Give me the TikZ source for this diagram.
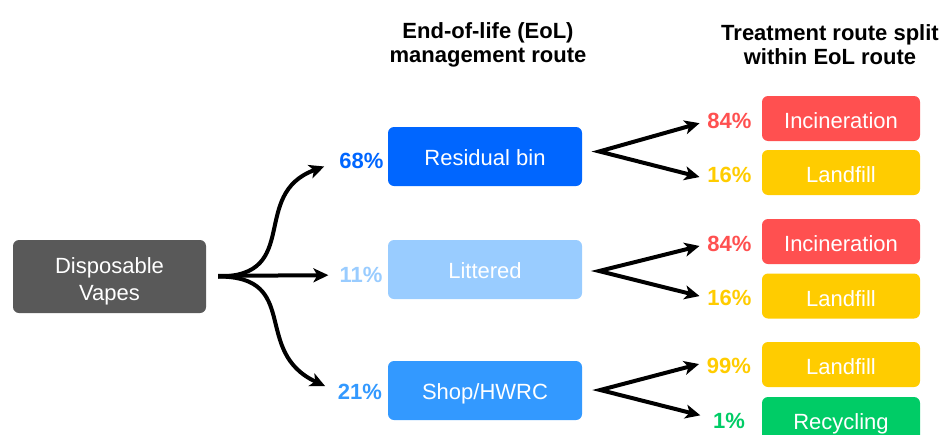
\documentclass[tikz,border=0pt]{standalone}
\usepackage{fontspec}
\setmainfont{Liberation Sans}
\usetikzlibrary{arrows.meta}
\definecolor{vapegray}{HTML}{595959}
\definecolor{binblue}{HTML}{0066FF}
\definecolor{litblue}{HTML}{99CCFF}
\definecolor{shopblue}{HTML}{3399FF}
\definecolor{incred}{HTML}{FF5050}
\definecolor{fillyellow}{HTML}{FFCC00}
\definecolor{recgreen}{HTML}{00CC66}
\tikzset{
	box/.style={rounded corners=6pt,text=white,inner sep=0pt,minimum width=194pt,minimum height=59pt,align=center,text height=18pt,text depth=0pt,font=\fontsize{22}{27}\selectfont},
	tbox/.style={box,minimum width=158pt,minimum height=45pt,text height=20pt},
	pct/.style={inner sep=0pt,font=\bfseries\fontsize{22}{26}\selectfont},
	head/.style={align=center,font=\bfseries\fontsize{22}{24}\selectfont},
	flow/.style={->,line width=4pt,miter limit=20}
}
\begin{document}
\begin{tikzpicture}[>={Stealth[length=15pt,width=14pt,inset=4pt]},x=1pt,y=-1pt]
		\useasboundingbox (0,0) rectangle (944,434);
		\node[head] (hroute) at (488,44.5) {End-of-life (EoL)\\management route};
		\node[head] (hsplit) at (830,44.5) {Treatment route split\\within EoL route};
		\node[box,fill=vapegray,minimum width=193pt,minimum height=73pt,text height=48pt] (vapes) at (109.5,276.5) {Disposable\\Vapes};
		\node[box,fill=binblue] (bin) at (485,156.5) {Residual bin};
		\node[box,fill=litblue] (litter) at (485,269.5) {Littered};
		\node[box,fill=shopblue] (shop) at (485,390.5) {Shop/HWRC};
		\node[pct,text=binblue] (p68) at (361.5,161) {68\%};
		\node[pct,text=litblue] (p11) at (361,275) {11\%};
		\node[pct,text=shopblue] (p21) at (360,392) {21\%};
		\draw[flow,shorten <=12pt,shorten >=16pt] (vapes) to[out=0,in=200,looseness=1.4] (p68.west);
		\draw[flow,shorten <=12pt,shorten >=11pt] (vapes) -- (p11);
		\draw[flow,shorten <=12pt,shorten >=14pt] (vapes) to[out=0,in=155,looseness=1.4] (p21.west);
		% treatment split
		\node[tbox,fill=incred] (inc1) at (841,118.5) {Incineration};
		\node[tbox,fill=fillyellow] (lan1) at (841,172.5) {Landfill};
		\node[tbox,fill=incred] (inc2) at (841,241.5) {Incineration};
		\node[tbox,fill=fillyellow] (lan2) at (841,296) {Landfill};
		\node[tbox,fill=fillyellow] (lan3) at (841,364.5) {Landfill};
		\node[tbox,fill=recgreen] (rec3) at (841,419.5) {Recycling};
		\node[pct,text=incred] (p84a) at (729.5,121) {84\%};
		\node[pct,text=fillyellow] (p16a) at (729.5,175) {16\%};
		\node[pct,text=incred] (p84b) at (729.5,244) {84\%};
		\node[pct,text=fillyellow] (p16b) at (729.5,298) {16\%};
		\node[pct,text=fillyellow] (p99) at (729,366) {99\%};
		\node[pct,text=recgreen] (p1) at (729,420.5) {1\%};
		\coordinate (sbin) at ([shift={(17,-5)}]bin.east);
		\coordinate (slit) at ([shift={(17,1.5)}]litter.east);
		\coordinate (sshop) at ([shift={(18,-0.5)}]shop.east);
		\draw[flow,<->,shorten <=8pt,shorten >=8pt] (p84a.west) -- (sbin) -- ([yshift=-4pt]p16a.west);
		\draw[flow,<->,shorten <=8pt,shorten >=8pt] (p84b.west) -- (slit) -- (p16b.west);
		\draw[flow,<->,shorten <=8pt,shorten >=13pt] ([yshift=4pt]p99.west) -- (sshop) -- ([yshift=2pt]p1.west);
		\end{tikzpicture}
\end{document}
